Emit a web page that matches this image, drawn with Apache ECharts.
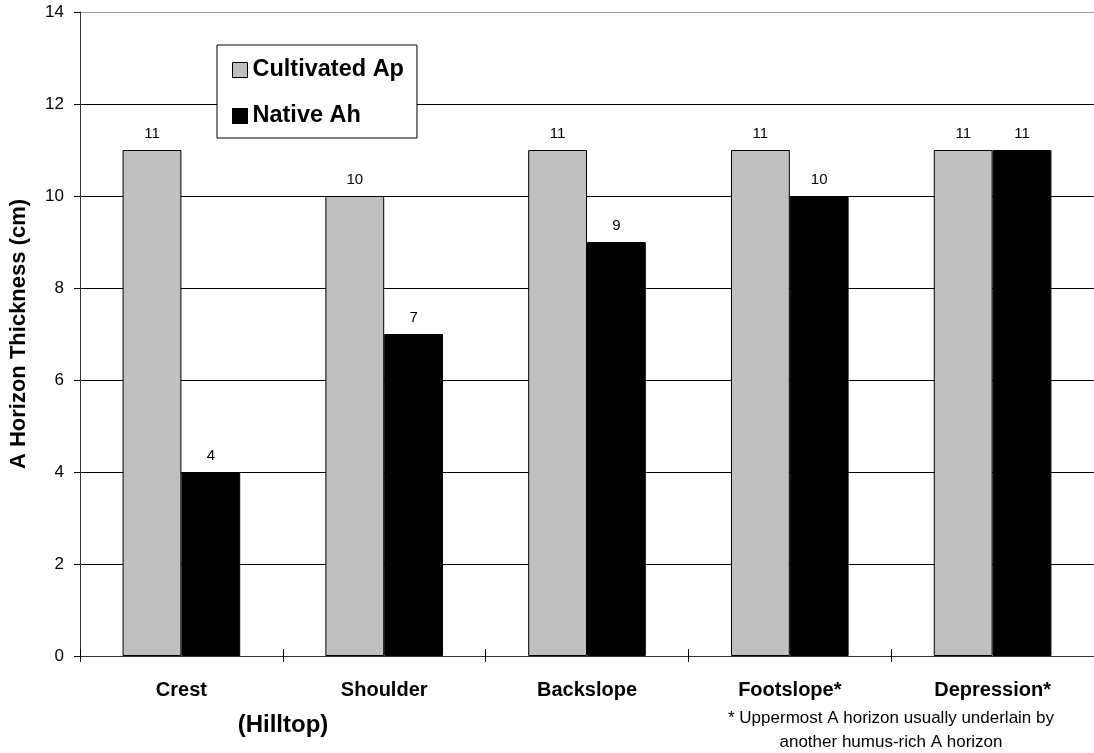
<!DOCTYPE html>
<html><head><meta charset="utf-8">
<script src="https://cdn.jsdelivr.net/npm/echarts@6/dist/echarts.min.js"></script>
<style>html,body{margin:0;padding:0;background:#fff}#c{width:1094px;height:753px}</style>
</head><body><div id="c"></div>
<script>
const categories = ['Crest', 'Shoulder', 'Backslope', 'Footslope*', 'Depression*'];
const cultivatedAp = [11, 10, 11, 11, 11];
const nativeAh = [4, 7, 9, 10, 11];
const seriesNames = ['Cultivated Ap', 'Native Ah'];
const yTitle = 'A Horizon Thickness (cm)';
const font = '"Liberation Sans", Arial, sans-serif';

const chart = echarts.init(document.getElementById('c'), null, {renderer: 'canvas'});
const lblStyle = {show: true, position: 'top', distance: 9, color: '#000', fontSize: 15, fontFamily: font};
chart.setOption({
  animation: false,
  backgroundColor: '#fff',
  grid: {left: 79, right: 0, top: 12, bottom: 97, containLabel: false},
  legend: {
    orient: 'vertical', left: 217, top: 45,
    padding: [13, 13, 10, 15],
    backgroundColor: '#fff', borderColor: '#000', borderWidth: 1,
    itemWidth: 15, itemHeight: 15, itemGap: 22,
    textStyle: {fontFamily: font, fontSize: 23.5, fontWeight: 'bold', color: '#000', padding: [0,0,0,0]},
    data: [
      {name: seriesNames[0], icon: 'rect', itemStyle: {color: '#c0c0c0', borderColor: '#000', borderWidth: 1}},
      {name: seriesNames[1], icon: 'rect', itemStyle: {color: '#000', borderColor: '#000', borderWidth: 1}}
    ]
  },
  xAxis: [{
    type: 'category', data: categories,
    axisLine: {lineStyle: {color: '#333', width: 1}},
    axisTick: {show: true, length: 6, lineStyle: {color: '#000'}},
    axisLabel: {fontFamily: font, fontSize: 20, fontWeight: 'bold', color: '#000', margin: 24}
  }, {
    type: 'category', data: categories, position: 'bottom',
    axisLine: {show: false},
    axisTick: {show: true, inside: true, length: 7, lineStyle: {color: '#000'}},
    axisLabel: {show: false}
  }],
  yAxis: {
    type: 'value', min: 0, max: 14, interval: 2,
    name: yTitle, nameLocation: 'middle', nameGap: 50, nameRotate: 90,
    nameTextStyle: {fontFamily: font, fontSize: 22, fontWeight: 'bold', color: '#000'},
    axisLine: {show: true, lineStyle: {color: '#333', width: 1}},
    axisTick: {show: true, length: 6, lineStyle: {color: '#000'}},
    axisLabel: {fontFamily: font, fontSize: 17, color: '#000', margin: 16},
    splitLine: {show: true, lineStyle: {color: ['#000','#000','#000','#000','#000','#000','#000','#999'], width: 1}}
  },
  series: [
    {name: seriesNames[0], type: 'bar', data: cultivatedAp, barGap: '0%', barCategoryGap: '42%',
     itemStyle: {color: '#c0c0c0', borderColor: '#000', borderWidth: 1}, label: lblStyle},
    {name: seriesNames[1], type: 'bar', data: nativeAh,
     itemStyle: {color: '#000', borderColor: '#000', borderWidth: 1}, label: lblStyle}
  ],
  graphic: [
    {type: 'text', style: {text: '(Hilltop)', x: 283, y: 725, align: 'center', verticalAlign: 'middle', font: 'bold 24px ' + font, fill: '#000'}},
    {type: 'text', style: {text: '* Uppermost A horizon usually underlain by\nanother humus-rich A horizon', x: 891, y: 730, align: 'center', verticalAlign: 'middle', font: '17px ' + font, fill: '#000', lineHeight: 24}}
  ]
});
</script></body></html>
